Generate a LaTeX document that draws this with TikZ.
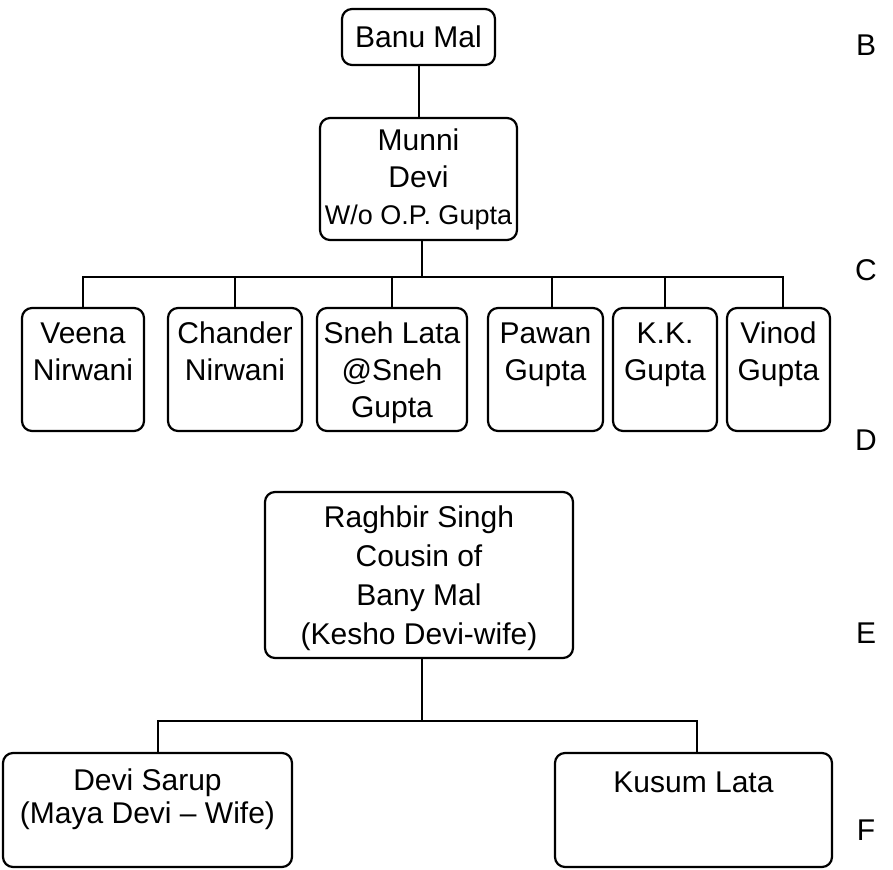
\documentclass[tikz,border=0pt]{standalone}
\usepackage{fontspec}
\setmainfont{Liberation Sans}
\newcommand\famtext[4]{\parbox[t][#2][t]{#1}{\centering\rule{0pt}{#3}\ignorespaces#4\par}}
\begin{document}
\begin{tikzpicture}[x=1pt,y=-1pt,
  every node/.style={font=\fontsize{30}{37}\selectfont},
  fam/.style={draw, line width=2.2pt, rounded corners=10pt, inner sep=0pt, outer sep=0pt},
  lnk/.style={line width=2pt, line join=miter},
  tag/.style={inner sep=0pt}]
\useasboundingbox (0,0) rectangle (893,869);

% top family
\node[fam] (banu) at (418.5,37) {\famtext{153pt}{56pt}{38.7pt}{Banu Mal}};
\node[fam] (munni) at (418.5,179) {\famtext{197pt}{122pt}{32.7pt}{Munni\\Devi\\{\fontsize{27}{37}\selectfont W/o O.P. Gupta}}};

\node[fam] (veena) at (83,369.5) {\famtext{122pt}{123pt}{35.7pt}{Veena\\Nirwani}};
\node[fam] (chander) at (235,369.5) {\famtext{134pt}{123pt}{35.7pt}{Chander\\Nirwani}};
\node[fam] (sneh) at (392,369.5) {\famtext{150pt}{123pt}{35.7pt}{Sneh Lata\\@Sneh\\Gupta}};
\node[fam] (pawan) at (545.5,369.5) {\famtext{115pt}{123pt}{35.7pt}{Pawan\\Gupta}};
\node[fam] (kk) at (665,369.5) {\famtext{104pt}{123pt}{35.7pt}{K.K.\\Gupta}};
\node[fam] (vinod) at (778.5,369.5) {\famtext{103pt}{123pt}{35.7pt}{Vinod\\Gupta}};

% second family
\node[fam] (raghbir) at (419,575) {\famtext{308pt}{166pt}{35.7pt}{\fontsize{30}{39}\selectfont Raghbir Singh\\Cousin of\\Bany Mal\\(Kesho Devi-wife)}};
\node[fam] (devi) at (147.5,810) {\famtext{289pt}{114pt}{37.7pt}{\fontsize{30}{33}\selectfont Devi Sarup\\(Maya Devi \textendash{} Wife)}};
\node[fam] (kusum) at (693.5,810) {\famtext{277pt}{114pt}{39.7pt}{Kusum Lata}};

% side letters
\node[tag] (tB) at (866,45) {B};
\node[tag] (tC) at (866,270) {C};
\node[tag] (tD) at (866,440) {D};
\node[tag] (tE) at (866,633) {E};
\node[tag] (tF) at (866,830) {F};

% connectors
\coordinate (bar1) at (0,277);
\coordinate (bar2) at (0,721);
\coordinate (mb) at ([xshift=3.5pt]munni.south);
\coordinate (pt) at ([xshift=6.5pt]pawan.north);
\coordinate (vt) at ([xshift=4.5pt]vinod.north);
\coordinate (rb) at ([xshift=3pt]raghbir.south);
\coordinate (dt) at ([xshift=10.5pt]devi.north);
\coordinate (kt) at ([xshift=3.5pt]kusum.north);

\draw[lnk] (banu.south) -- (munni.north);
\draw[lnk] (mb) -- (mb |- bar1);
\draw[lnk] (veena.north) -- (veena.north |- bar1) -- (vt |- bar1) -- (vt);
\draw[lnk] (chander.north) -- (chander.north |- bar1);
\draw[lnk] (sneh.north) -- (sneh.north |- bar1);
\draw[lnk] (pt) -- (pt |- bar1);
\draw[lnk] (kk.north) -- (kk.north |- bar1);

\draw[lnk] (rb) -- (rb |- bar2);
\draw[lnk] (dt) -- (dt |- bar2) -- (kt |- bar2) -- (kt);
\end{tikzpicture}
\end{document}
